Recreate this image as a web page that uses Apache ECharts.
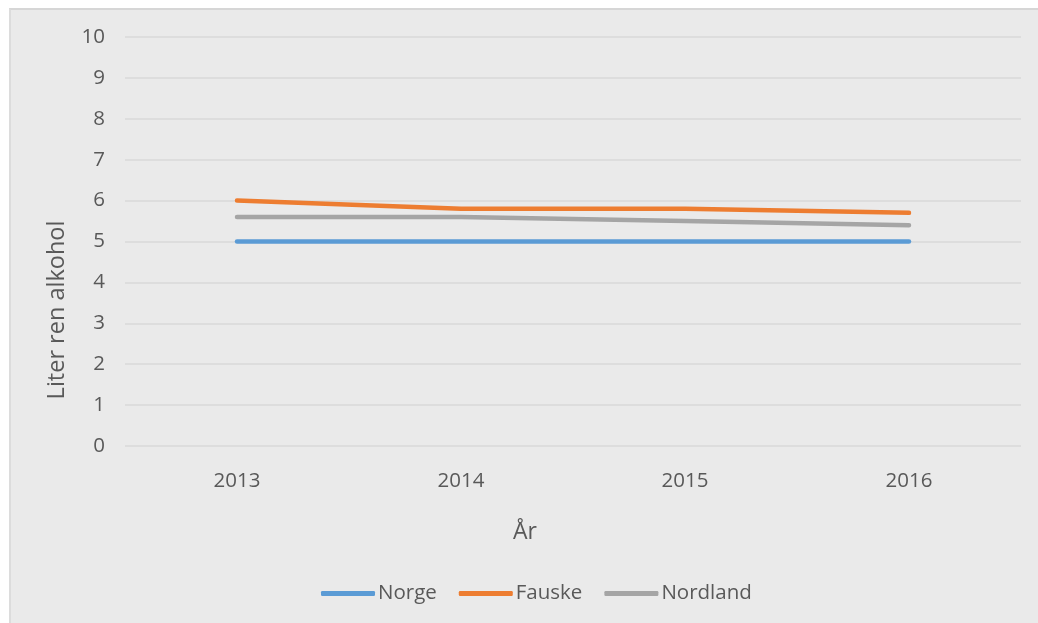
<!DOCTYPE html>
<html>
<head>
<meta charset="utf-8">
<script src="https://cdn.jsdelivr.net/npm/echarts@6/dist/echarts.min.js"></script>
<style>
  html, body { margin: 0; padding: 0; background: #ffffff; overflow: hidden; width: 1038px; height: 623px; }
  #panel { position: absolute; left: 9px; top: 8px; width: 1040px; height: 620px; background: #eaeaea; border-top: 2px solid #d6d6d6; border-left: 2px solid #dcdcdc; box-sizing: border-box; }
  #chart { position: absolute; left: 0; top: 0; width: 1038px; height: 623px; }
</style>
</head>
<body>
<div id="panel"></div>
<div id="chart"></div>
<script>
const years = ['2013', '2014', '2015', '2016'];
const norge = [5.0, 5.0, 5.0, 5.0];
const fauske = [6.0, 5.8, 5.8, 5.7];
const nordland = [5.6, 5.6, 5.5, 5.4];
const seriesNames = ['Norge', 'Fauske', 'Nordland'];
const yTitle = 'Liter ren alkohol';
const xTitle = 'År';

const FONT = '"Open Sans", "DejaVu Sans", sans-serif';
const colors = ['#5b9bd5', '#ed7d31', '#a5a5a5'];
const chart = echarts.init(document.getElementById('chart'), null, { renderer: 'canvas' });

function line(name, data, color) {
  return {
    name: name, type: 'line', data: data, showSymbol: false, symbol: 'none',
    lineStyle: { color: color, width: 4.5, cap: 'round', join: 'round' },
    itemStyle: { color: color }, animation: false
  };
}

chart.setOption({
  backgroundColor: 'transparent',
  animation: false,
  textStyle: { fontFamily: FONT },
  grid: { left: 125, right: 17, top: 37, bottom: 177 },
  xAxis: {
    type: 'category', data: years, boundaryGap: true,
    axisLine: { show: false }, axisTick: { show: false },
    axisLabel: { color: '#595959', fontSize: 20.5, fontFamily: FONT, margin: 25 }
  },
  yAxis: {
    type: 'value', min: 0, max: 10, interval: 1,
    axisLine: { show: false }, axisTick: { show: false },
    axisLabel: { color: '#595959', fontSize: 20.5, fontFamily: FONT, margin: 20 },
    splitLine: { lineStyle: { color: '#d9d9d9', width: 1.5 } }
  },
  legend: {
    bottom: 14, left: 316, itemGap: 22, itemWidth: 54, itemHeight: 5,
    icon: 'roundRect',
    textStyle: { color: '#595959', fontSize: 20.5, fontFamily: FONT, padding: [0, 0, 0, -2] },
    data: seriesNames
  },
  graphic: [
    { type: 'text', x: 57, y: 310, rotation: Math.PI / 2,
      style: { text: yTitle, fill: '#595959', font: '23.5px ' + FONT, align: 'center', verticalAlign: 'middle' } },
    { type: 'text', x: 525, y: 532,
      style: { text: xTitle, fill: '#595959', font: '23px ' + FONT, align: 'center', verticalAlign: 'middle' } }
  ],
  series: [
    line(seriesNames[0], norge, colors[0]),
    line(seriesNames[1], fauske, colors[1]),
    line(seriesNames[2], nordland, colors[2])
  ]
});
</script>
</body>
</html>
